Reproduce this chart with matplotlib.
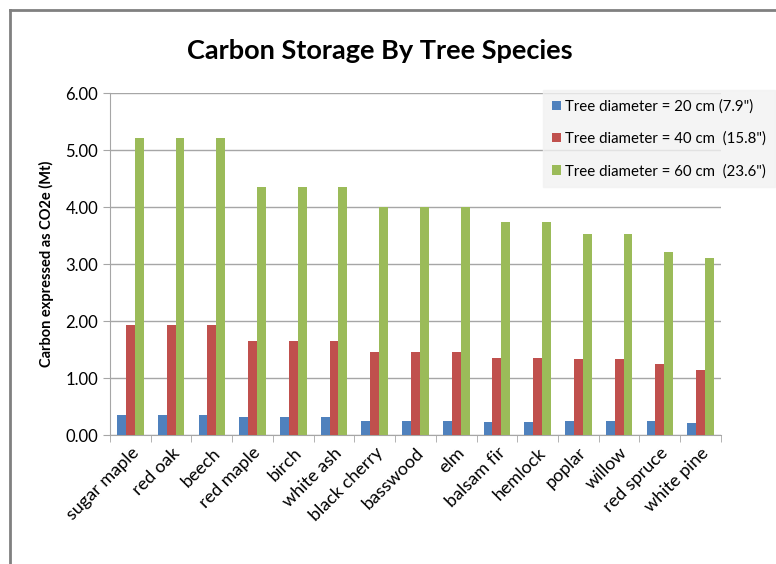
import numpy as np
import matplotlib
matplotlib.use('Agg')
import matplotlib.pyplot as plt
from matplotlib.lines import Line2D
from matplotlib.patches import Patch

plt.rcParams['font.family'] = ['Lato', 'DejaVu Sans']

# data
species = ['sugar maple', 'red oak', 'beech', 'red maple', 'birch', 'white ash',
           'black cherry', 'basswood', 'elm', 'balsam fir', 'hemlock', 'poplar',
           'willow', 'red spruce', 'white pine']
d20 = [0.35, 0.35, 0.35, 0.32, 0.32, 0.32, 0.25, 0.25, 0.25, 0.23, 0.23, 0.25, 0.25, 0.25, 0.21]
d40 = [1.93, 1.93, 1.93, 1.65, 1.65, 1.65, 1.45, 1.45, 1.45, 1.35, 1.35, 1.33, 1.33, 1.24, 1.15]
d60 = [5.21, 5.21, 5.21, 4.35, 4.35, 4.35, 4.00, 4.00, 4.00, 3.74, 3.74, 3.53, 3.53, 3.22, 3.11]
labels = ['Tree diameter = 20 cm (7.9")',
          'Tree diameter = 40 cm  (15.8")',
          'Tree diameter = 60 cm  (23.6")']
colors = ['#4F81BD', '#C0504D', '#9BBB59']

fig = plt.figure(figsize=(7.76, 5.64), dpi=100)
ax = fig.add_axes([0.1418, 0.2287, 0.929 - 0.1418, 0.8346 - 0.2287])

x = np.arange(len(species))
w = 0.218
for i, vals in enumerate([d20, d40, d60]):
    ax.bar(x + (i - 1) * w, vals, width=w, color=colors[i], zorder=3)

ax.set_xlim(-0.5, len(species) - 0.5)
ax.set_ylim(0, 6)
ax.set_yticks(np.arange(0, 7, 1))
ax.set_yticklabels(['%.2f' % v for v in np.arange(0, 7, 1)], fontsize=12)
ax.yaxis.grid(True, color='#a6a6a6', linewidth=1, zorder=0)

ax.set_xticks(x)
ax.set_xticklabels(species, rotation=45, ha='right', rotation_mode='anchor', fontsize=13)
ax.tick_params(axis='x', length=0, pad=7)
ax.set_xticks(np.arange(-0.5, len(species), 1), minor=True)
ax.tick_params(axis='x', which='minor', length=5, color='#a6a6a6')
ax.tick_params(axis='y', length=5, color='#a6a6a6')

for s in ['top', 'right']:
    ax.spines[s].set_visible(False)
for s in ['left', 'bottom']:
    ax.spines[s].set_color('#a6a6a6')

ax.set_ylabel('Carbon expressed as CO2e (Mt)', fontsize=10.5, fontweight='bold', labelpad=8)

fig.text(0.49, 0.91, 'Carbon Storage By Tree Species', ha='center', va='center',
         fontsize=19.5, fontweight='bold')

handles = [Patch(facecolor=c, edgecolor='none') for c in colors]
leg = fig.legend(handles, labels, loc='upper left', bbox_to_anchor=(0.70, 0.84),
                 fontsize=10.8, frameon=True, fancybox=False, handlelength=0.6,
                 handleheight=0.6, handletextpad=0.25, labelspacing=1.2,
                 borderpad=0.6, borderaxespad=0)
leg.get_frame().set_facecolor('#f2f2f2')
leg.get_frame().set_edgecolor('#f2f2f2')

# outer frame of the chart
fig.add_artist(Line2D([0.013, 1.0], [0.982, 0.982], color='#808080', linewidth=2, transform=fig.transFigure))
fig.add_artist(Line2D([0.013, 0.013], [0.0, 0.982], color='#808080', linewidth=2, transform=fig.transFigure))

fig.savefig('out.png', dpi=100)
